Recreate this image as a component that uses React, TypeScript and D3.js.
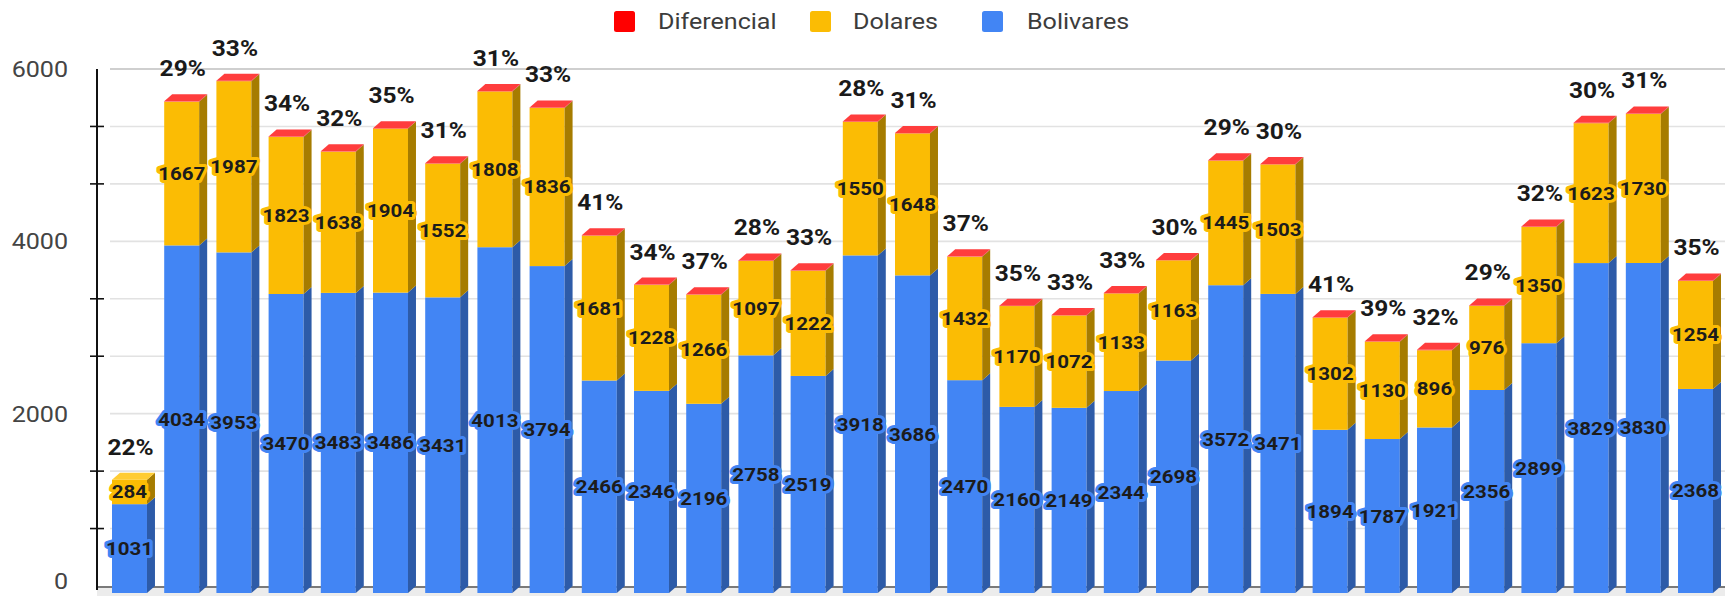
import React from "react";
import * as d3 from "d3";

// ---- data ----
const bolivares = [1031, 4034, 3953, 3470, 3483, 3486, 3431, 4013, 3794, 2466, 2346, 2196, 2758, 2519, 3918, 3686, 2470, 2160, 2149, 2344, 2698, 3572, 3471, 1894, 1787, 1921, 2356, 2899, 3829, 3830, 2368];
const dolares = [284, 1667, 1987, 1823, 1638, 1904, 1552, 1808, 1836, 1681, 1228, 1266, 1097, 1222, 1550, 1648, 1432, 1170, 1072, 1133, 1163, 1445, 1503, 1302, 1130, 896, 976, 1350, 1623, 1730, 1254];
const diferencial = [0, 5, 5, 5, 5, 5, 5, 5, 5, 5, 5, 5, 5, 5, 5, 5, 5, 5, 5, 5, 5, 5, 5, 5, 5, 5, 5, 5, 5, 5, 5];
const percentLabels = ["22%", "29%", "33%", "34%", "32%", "35%", "31%", "31%", "33%", "41%", "34%", "37%", "28%", "33%", "28%", "31%", "37%", "35%", "33%", "33%", "30%", "29%", "30%", "41%", "39%", "32%", "29%", "32%", "30%", "31%", "35%"];
const yTickLabels = [0, 2000, 4000, 6000];
const seriesNames = ["Diferencial", "Dolares", "Bolivares"];

// ---- styles ----
const W = 1725;
const H = 596;
const DX = 8; // 3d depth x
const DY = 7; // 3d depth y
const SX = 1.14; // horizontal text stretch
const colors = {
  Bolivares: { front: "#4285F4", side: "#2D5BA8", top: "#6FA0F7", legend: "#4285F4" },
  Dolares: { front: "#FBBC04", side: "#A67C00", top: "#FFCC33", legend: "#FBBC04" },
  Diferencial: { front: "#FF3B3B", side: "#C02020", top: "#FF3D3D", legend: "#FF0000" },
};

export default function App() {
  React.useEffect(() => {
    document.body.style.margin = "0";
  }, []);

  const idx = bolivares.map((_, i) => i);
  const x = d3.scaleBand<number>().domain(idx).range([112, 1713]).paddingInner(0.33).paddingOuter(0);
  const y = d3.scaleLinear().domain([0, 6000]).range([586, 69]);
  const bw = x.bandwidth();

  const minor = d3.range(0, 6001, 2000 / 3).filter((v) => !yTickLabels.some((t) => Math.abs(t - v) < 1));
  const allGrid = d3.range(0, 6001, 2000 / 3);

  const bars = idx.map((i) => {
    const segs = [
      { name: "Bolivares", v0: 0, v1: bolivares[i], label: bolivares[i] },
      { name: "Dolares", v0: bolivares[i], v1: bolivares[i] + dolares[i], label: dolares[i] },
      { name: "Diferencial", v0: bolivares[i] + dolares[i], v1: bolivares[i] + dolares[i] + diferencial[i], label: null },
    ].filter((s) => s.v1 > s.v0);
    return { i, segs, total: bolivares[i] + dolares[i] + diferencial[i] };
  });

  const legendItems = [
    { name: seriesNames[0], sq: 614, tx: 658 },
    { name: seriesNames[1], sq: 810, tx: 853 },
    { name: seriesNames[2], sq: 982, tx: 1027 },
  ];

  const font = "Roboto, 'Noto Sans', Arial, sans-serif";

  return (
    <svg width={W} height={H} style={{ position: "absolute", left: 0, top: 0, background: "#fff" }} fontFamily={font}>
      {/* legend */}
      {legendItems.map((it) => (
        <g key={it.name}>
          <rect x={it.sq} y={11} width={21} height={21} rx={2.5} fill={(colors as any)[it.name].legend} />
          <text transform={`translate(${it.tx},29) scale(${SX},1)`} fontSize={22} fill="#3c3c3c">
            {it.name}
          </text>
        </g>
      ))}

      {/* floor */}
      <polygon points={`97,${y(0)} ${W},${y(0)} ${W},${y(0) + DY + 3} 97,${y(0) + DY + 3}`} fill="#ececec" />
      <line x1={97} x2={W} y1={y(0) + 1} y2={y(0) + 1} stroke="#555" strokeWidth={1.5} />

      {/* gridlines */}
      {allGrid.map((v, k) => (
        <line
          key={k}
          x1={110}
          x2={W}
          y1={y(v)}
          y2={y(v)}
          stroke={v > 5999 ? "#cfcfcf" : "#e2e2e2"}
          strokeWidth={v > 5999 ? 2.2 : 1.6}
          style={{ display: v < 1 ? "none" : undefined }}
        />
      ))}

      {/* y axis */}
      <line x1={97} x2={97} y1={y(6000)} y2={y(0) + 4} stroke="#111" strokeWidth={2} />
      {minor.map((v, k) => (
        <line key={k} x1={90} x2={104} y1={y(v)} y2={y(v)} stroke="#111" strokeWidth={1.6} />
      ))}
      {yTickLabels.map((t) => (
        <text
          key={t}
          transform={`translate(68,${Math.min(y(t) + 8, H - 7)}) scale(${SX},1)`}
          textAnchor="end"
          fontSize={22}
          fill="#444"
        >
          {t}
        </text>
      ))}

      {/* bars */}
      {bars.map((b) => {
        const x0 = x(b.i)!;
        const x1 = x0 + bw;
        const topSeg = b.segs[b.segs.length - 1];
        const yt = y(b.total) + DY;
        return (
          <g key={b.i}>
            {b.segs.map((s) => {
              const c = (colors as any)[s.name];
              const yTop = y(s.v1) + DY;
              const yBot = y(s.v0) + DY;
              return (
                <g key={s.name}>
                  <rect x={x0} y={yTop} width={bw} height={Math.max(0, yBot - yTop)} fill={c.front} />
                  <polygon
                    points={`${x1},${yTop} ${x1 + DX},${yTop - DY} ${x1 + DX},${yBot - DY} ${x1},${yBot}`}
                    fill={c.side}
                  />
                </g>
              );
            })}
            <polygon
              points={`${x0},${yt} ${x0 + DX},${yt - DY} ${x1 + DX},${yt - DY} ${x1},${yt}`}
              fill={(colors as any)[topSeg.name].top}
            />
          </g>
        );
      })}

      {/* value labels */}
      {bars.map((b) =>
        b.segs
          .filter((s) => s.label != null)
          .map((s) => {
            const c = (colors as any)[s.name];
            const cx = x(b.i)! + bw / 2;
            const cy = (y(s.v1) + y(s.v0)) / 2 + DY;
            return (
              <text
                key={`${b.i}-${s.name}`}
                transform={`translate(${cx},${cy + 6.5}) scale(${SX},1)`}
                textAnchor="middle"
                fontSize={18}
                fontWeight={700}
                fill="#1c1c1c"
                stroke={c.front}
                strokeWidth={6}
                strokeLinejoin="round"
                paintOrder="stroke"
              >
                {s.label}
              </text>
            );
          })
      )}

      {/* percent labels */}
      {bars.map((b) => (
        <text
          key={`p${b.i}`}
          transform={`translate(${x(b.i)! + bw / 2 + 1},${y(b.total) - 18}) scale(${SX},1)`}
          textAnchor="middle"
          fontSize={21.5}
          fontWeight={700}
          fill="#1a1a1a"
        >
          {percentLabels[b.i]}
        </text>
      ))}
    </svg>
  );
}
